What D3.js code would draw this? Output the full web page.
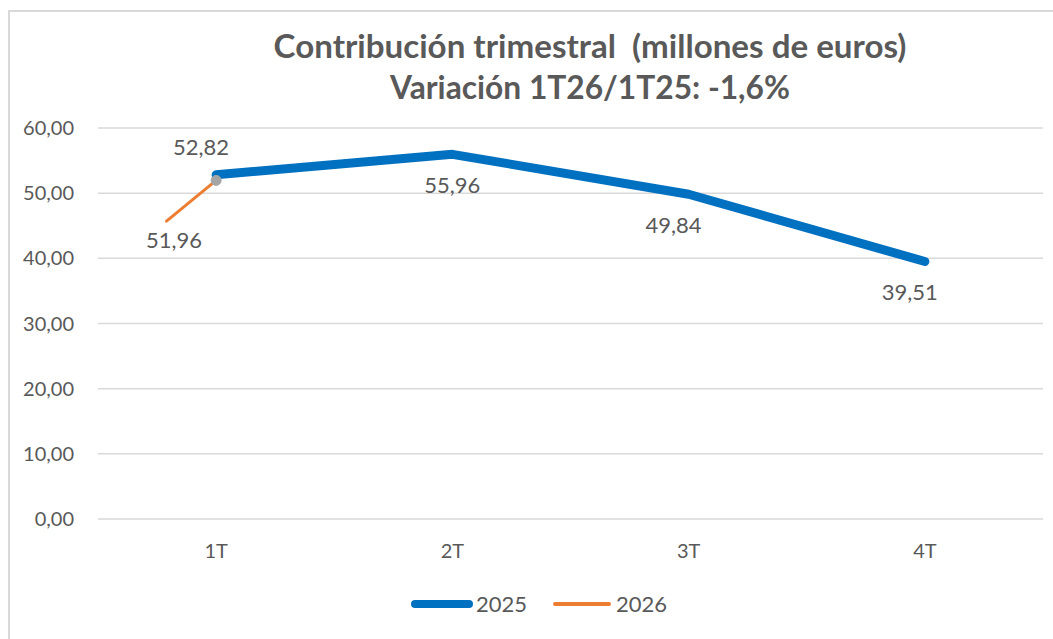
<!DOCTYPE html>
<html>
<head>
<meta charset="utf-8">
<script src="https://cdn.jsdelivr.net/npm/d3@7"></script>
<style>
  body { margin: 0; background: #fff; }
  text { font-family: Lato, "Open Sans", sans-serif; fill: #595959; white-space: pre; }
</style>
</head>
<body>
<div id="chart"></div>
<script>
var w = 1053;
var h = 639;

// quarters and values
var quarters = ["1T", "2T", "3T", "4T"];
var values2025 = [52.82, 55.96, 49.84, 39.51];
// 2026 line: lead-in point (left of 1T) then the 1T value
var pos2026 = [-0.21, 0];
var values2026 = [45.7, 51.96];
var label2026 = "51,96";
var yTicks = [0, 10, 20, 30, 40, 50, 60];
var titleLines = ["Contribución trimestral  (millones de euros)", "Variación 1T26/1T25: -1,6%"];
var seriesNames = ["2025", "2026"];

var blue = "#0070C0";
var orange = "#ED7D31";
var grid = "#D9D9D9";

var plotLeft = 98, plotRight = 1043, plotTop = 128, plotBottom = 519;

var svg = d3.select("#chart")
  .append("svg")
  .attr("width", w)
  .attr("height", h);

// outer chart border (only left and top visible)
svg.append("path")
  .attr("d", "M 9 " + h + " L 9 11 L " + w + " 11")
  .attr("fill", "none")
  .attr("stroke", grid)
  .attr("stroke-width", 2);

var x = d3.scaleLinear()
  .domain([-0.5, quarters.length - 0.5])
  .range([plotLeft, plotRight]);

var y = d3.scaleLinear()
  .domain([0, 60])
  .range([plotBottom, plotTop]);

var fmt = function(v) { return d3.format(".2f")(v).replace(".", ","); };

// gridlines
svg.append("g")
  .selectAll("line")
  .data(yTicks)
  .enter().append("line")
  .attr("x1", plotLeft)
  .attr("x2", plotRight)
  .attr("y1", function(d) { return y(d); })
  .attr("y2", function(d) { return y(d); })
  .attr("stroke", grid)
  .attr("stroke-width", 1.5);

// y axis labels
svg.append("g")
  .selectAll("text")
  .data(yTicks)
  .enter().append("text")
  .attr("x", 74)
  .attr("y", function(d) { return y(d) + 7; })
  .attr("text-anchor", "end")
  .attr("font-size", 20)
  .text(function(d) { return fmt(d); });

// x axis labels
svg.append("g")
  .selectAll("text")
  .data(quarters)
  .enter().append("text")
  .attr("x", function(d, i) { return x(i); })
  .attr("y", 558)
  .attr("text-anchor", "middle")
  .attr("font-size", 20)
  .text(function(d) { return d; });

var line = d3.line()
  .x(function(d) { return x(d[0]); })
  .y(function(d) { return y(d[1]); });

// 2025 series
svg.append("path")
  .attr("d", line(values2025.map(function(v, i) { return [i, v]; })))
  .attr("fill", "none")
  .attr("stroke", blue)
  .attr("stroke-width", 9)
  .attr("stroke-linecap", "round")
  .attr("stroke-linejoin", "round");

// 2026 series
var pts2026 = pos2026.map(function(p, i) { return [p, values2026[i]]; });
svg.append("path")
  .attr("d", line(pts2026))
  .attr("fill", "none")
  .attr("stroke", orange)
  .attr("stroke-width", 3)
  .attr("stroke-linecap", "round");

var last = pts2026[pts2026.length - 1];
svg.append("circle")
  .attr("cx", x(last[0]))
  .attr("cy", y(last[1]))
  .attr("r", 5)
  .attr("fill", "#A5A5A5")
  .attr("stroke", "#A5A5A5");

// data labels 2025 (first above, rest below)
var labelOffsets = [[-15, -20], [0, 39], [-15, 39], [-15, 38]];
svg.append("g")
  .selectAll("text")
  .data(values2025)
  .enter().append("text")
  .attr("x", function(d, i) { return x(i) + labelOffsets[i][0]; })
  .attr("y", function(d, i) { return y(d) + labelOffsets[i][1]; })
  .attr("text-anchor", "middle")
  .attr("font-size", 22)
  .text(function(d) { return fmt(d); });

svg.append("text")
  .attr("x", x(last[0]) - 42)
  .attr("y", y(last[1]) + 68)
  .attr("text-anchor", "middle")
  .attr("font-size", 22)
  .text(label2026);

// title
var titleWidths = [633, 400];
titleLines.forEach(function(t, i) {
  var el = svg.append("text")
    .attr("x", 590)
    .attr("y", 58 + i * 41)
    .attr("text-anchor", "middle")
    .attr("font-size", 25)
    .attr("font-weight", "bold")
    .text(t);
  var len = el.node().getComputedTextLength();
  el.attr("font-size", 25 * titleWidths[i] / len);
});

// legend
var legend = svg.append("g");
var legendX = [412, 552];
var legendColors = [blue, orange];
var legendWidths = [8, 4];
seriesNames.forEach(function(s, i) {
  legend.append("line")
    .attr("x1", legendX[i] + 3)
    .attr("x2", legendX[i] + 57)
    .attr("y1", 604)
    .attr("y2", 604)
    .attr("stroke", legendColors[i])
    .attr("stroke-width", legendWidths[i])
    .attr("stroke-linecap", "round");
  legend.append("text")
    .attr("x", legendX[i] + 64)
    .attr("y", 612)
    .attr("font-size", 22)
    .text(s);
});
</script>
</body>
</html>
